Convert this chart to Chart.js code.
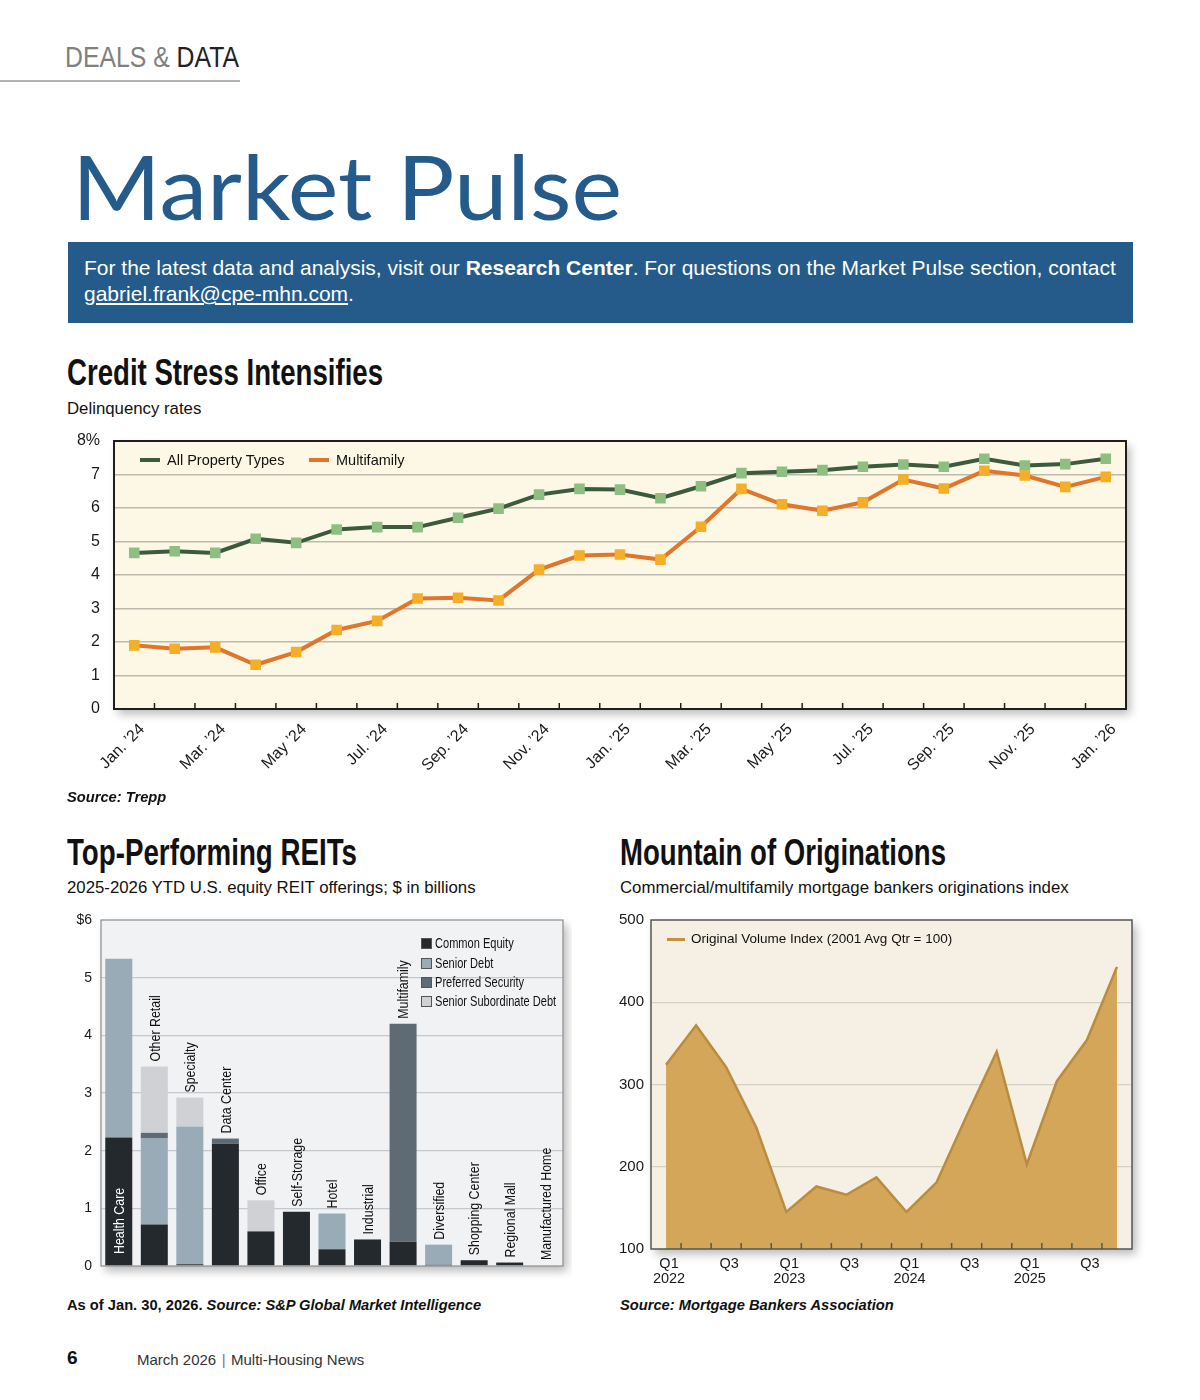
<!DOCTYPE html>
<html>
<head>
<meta charset="utf-8">
<script src="https://cdn.jsdelivr.net/npm/chart.js@4.4.1/dist/chart.umd.min.js"></script>
<style>
  body { margin: 0; width: 1200px; height: 1400px; background: #fff; position: relative; font-family: "Liberation Sans", Arial, sans-serif; color: #111; overflow: hidden; }
  .abs { position: absolute; line-height: 1; white-space: nowrap; }
  .fit { display: inline-block; transform-origin: 0 0; }
  .chart { position: absolute; }
  .head { font-weight: bold; font-size: 36px; color: #111; }
  .sub { font-size: 16.8px; color: #111; }
  .src { font-size: 14.7px; font-weight: bold; font-style: italic; color: #111; }
  .swatch { position: absolute; }
  .leg { position: absolute; line-height: 14px; white-space: nowrap; }
</style>
</head>
<body>

<div class="abs" style="left:65px; top:43px; font-size:29px;"><span class="fit" data-w="174"><span style="color:#808080; font-weight:300;">DEALS &amp; </span><span style="color:#222;">DATA</span></span></div>
<div style="position:absolute; left:0; top:80px; width:240px; height:2px; background:#b3b3b3;"></div>

<div class="abs" style="left:72px; top:140px; font-size:90px; font-family:Lato, sans-serif; font-weight:400; color:#245b8a;"><span class="fit" data-w="550">Market Pulse</span></div>

<div style="position:absolute; left:68px; top:242px; width:1065px; height:81px; background:#245b8b; color:#fff; font-size:21px; line-height:26px; box-sizing:border-box; padding:13px 0 0 16px; white-space:nowrap;">
  For the latest data and analysis, visit our <b>Research Center</b>. For questions on the Market Pulse section, contact<br>
  <span style="text-decoration:underline;">gabriel.frank@cpe-mhn.com</span>.
</div>

<div class="abs head" style="left:67px; top:355px;"><span class="fit" data-w="316">Credit Stress Intensifies</span></div>
<div class="abs sub" style="left:67px; top:401px;">Delinquency rates</div>

<div class="chart" style="left:60px; top:430px; width:1080px; height:360px;"><canvas id="delinquency"></canvas></div>
<div class="swatch" style="left:140px; top:458px; width:20px; height:4px; background:#3b5a3e;"></div>
<div class="leg" style="left:167px; top:453px; font-size:14.5px;">All Property Types</div>
<div class="swatch" style="left:309px; top:458px; width:20px; height:4px; background:#e0762c;"></div>
<div class="leg" style="left:336px; top:453px; font-size:14.5px;">Multifamily</div>

<div class="abs src" style="left:67px; top:790px;">Source: Trepp</div>

<div class="abs head" style="left:67px; top:835px;"><span class="fit" data-w="290">Top-Performing REITs</span></div>
<div class="abs sub" style="left:67px; top:880px;">2025-2026 YTD U.S. equity REIT offerings; $ in billions</div>

<div class="abs head" style="left:620px; top:835px;"><span class="fit" data-w="326">Mountain of Originations</span></div>
<div class="abs sub" style="left:620px; top:880px;">Commercial/multifamily mortgage bankers originations index</div>

<div class="chart" style="left:60px; top:910px; width:512px; height:370px;"><canvas id="reits"></canvas></div>
<div id="reit-legend"></div>

<div class="chart" style="left:610px; top:910px; width:535px; height:380px;"><canvas id="originations"></canvas></div>
<div class="swatch" style="left:667px; top:938px; width:18px; height:3px; background:#c4923c;"></div>
<div class="leg" style="left:691px; top:932px; font-size:13.5px;">Original Volume Index (2001 Avg Qtr = 100)</div>

<div class="abs src" style="left:67px; top:1298px;"><span style="font-style:normal;">As of Jan. 30, 2026.</span> Source: S&amp;P Global Market Intelligence</div>
<div class="abs src" style="left:620px; top:1298px;">Source: Mortgage Bankers Association</div>

<div class="abs" style="left:67px; top:1348px; font-size:19px; font-weight:bold;">6</div>
<div class="abs" style="left:137px; top:1352px; font-size:15px; color:#333;">March 2026 <span style="color:#777;">&#8202;|&#8202;</span> Multi-Housing News</div>

<script>
// Credit Stress Intensifies: delinquency rates, %
const monthLabels = [
  'Jan. \u201924', 'Feb. \u201924', 'Mar. \u201924', 'Apr. \u201924', 'May \u201924', 'Jun. \u201924',
  'Jul. \u201924', 'Aug. \u201924', 'Sep. \u201924', 'Oct. \u201924', 'Nov. \u201924', 'Dec. \u201924',
  'Jan. \u201925', 'Feb. \u201925', 'Mar. \u201925', 'Apr. \u201925', 'May \u201925', 'Jun. \u201925',
  'Jul. \u201925', 'Aug. \u201925', 'Sep. \u201925', 'Oct. \u201925', 'Nov. \u201925', 'Dec. \u201925',
  'Jan. \u201926'
];
const allPropertyTypes = [4.66, 4.71, 4.66, 5.08, 4.96, 5.36, 5.43, 5.43, 5.71, 5.98, 6.40, 6.57,
  6.55, 6.29, 6.65, 7.04, 7.08, 7.13, 7.23, 7.30, 7.23, 7.47, 7.27, 7.31, 7.47];
const multifamilyRates = [1.90, 1.80, 1.84, 1.32, 1.70, 2.36, 2.63, 3.30, 3.32, 3.24, 4.16, 4.58,
  4.61, 4.46, 5.44, 6.57, 6.11, 5.92, 6.17, 6.85, 6.58, 7.11, 6.97, 6.63, 6.93];

// Top-Performing REITs: $ billions
const reitSectors = ['Health Care', 'Other Retail', 'Specialty', 'Data Center', 'Office', 'Self-Storage',
  'Hotel', 'Industrial', 'Multifamily', 'Diversified', 'Shopping Center', 'Regional Mall', 'Manufactured Home'];
const commonEquity = [2.23, 0.72, 0.03, 2.12, 0.60, 0.94, 0.29, 0.46, 0.42, 0.02, 0.10, 0.06, 0];
const seniorDebt = [3.10, 1.49, 2.39, 0, 0, 0, 0.62, 0, 0, 0.35, 0, 0, 0];
const preferredSecurity = [0, 0.10, 0, 0.09, 0, 0, 0, 0, 3.78, 0, 0, 0, 0];
const seniorSubordinateDebt = [0, 1.15, 0.50, 0, 0.54, 0, 0, 0, 0, 0, 0, 0, 0];

// Mountain of Originations: index, 2001 avg qtr = 100
const quarterLabels = ['Q1 2022', 'Q2 2022', 'Q3 2022', 'Q4 2022', 'Q1 2023', 'Q2 2023', 'Q3 2023', 'Q4 2023',
  'Q1 2024', 'Q2 2024', 'Q3 2024', 'Q4 2024', 'Q1 2025', 'Q2 2025', 'Q3 2025', 'Q4 2025'];
const quarterTicks = [['Q1', '2022'], '', 'Q3', '', ['Q1', '2023'], '', 'Q3', '', ['Q1', '2024'], '', 'Q3', '',
  ['Q1', '2025'], '', 'Q3', ''];
const volumeIndex = [324, 372, 321, 248, 145, 176, 166, 187, 145, 181, 262, 340, 203, 304, 354, 443];

const FONT = '"Liberation Sans", Arial, sans-serif';
Chart.defaults.font.family = FONT;
Chart.defaults.color = '#1a1a1a';
Chart.defaults.animation = false;

// fixed axis sizes, so the plot boxes land where the page needs them
const fixY = (w) => (s) => { s.width = w; s.paddingTop = 0; s.paddingBottom = 0; };
const fixX = (h) => (s) => { s.height = h; s.paddingLeft = 0; s.paddingRight = 0; };

// shaded plot box, border and inward tick marks between categories
const framePlugin = {
  id: 'frame',
  beforeDraw(chart, args, opts) {
    const { ctx, chartArea: a } = chart;
    ctx.save();
    ctx.shadowColor = 'rgba(0, 0, 0, 0.28)';
    ctx.shadowBlur = 9;
    ctx.shadowOffsetX = 4;
    ctx.shadowOffsetY = 5;
    ctx.fillStyle = opts.bg;
    ctx.fillRect(a.left, a.top, a.right - a.left, a.bottom - a.top);
    ctx.restore();
  },
  afterDatasetsDraw(chart, args, opts) {
    const { ctx, chartArea: a } = chart;
    const x = chart.scales.x;
    ctx.save();
    if (opts.tickLen) {
      ctx.strokeStyle = opts.border;
      ctx.lineWidth = 1.5;
      const n = chart.data.labels.length;
      for (let i = 0; i < n - 1; i++) {
        const px = (x.getPixelForValue(i) + x.getPixelForValue(i + 1)) / 2;
        ctx.beginPath();
        ctx.moveTo(px, a.bottom);
        ctx.lineTo(px, a.bottom - opts.tickLen);
        ctx.stroke();
      }
    }
    ctx.strokeStyle = opts.border;
    ctx.lineWidth = opts.borderWidth;
    ctx.strokeRect(a.left, a.top, a.right - a.left, a.bottom - a.top);
    ctx.restore();
  }
};

// rotated sector names above (or inside) each stacked bar
const sectorLabelPlugin = {
  id: 'sectorLabels',
  afterDatasetsDraw(chart) {
    const { ctx, chartArea: a } = chart;
    const x = chart.scales.x;
    const y = chart.scales.y;
    ctx.save();
    ctx.font = '15.5px ' + FONT;
    ctx.textBaseline = 'middle';
    ctx.textAlign = 'left';
    reitSectors.forEach((name, i) => {
      const total = commonEquity[i] + seniorDebt[i] + preferredSecurity[i] + seniorSubordinateDebt[i];
      const w = ctx.measureText(name).width * 0.8;
      let start = y.getPixelForValue(total) - 5;
      ctx.fillStyle = '#111';
      if (start - w < a.top + 4) {
        start = a.bottom - 12;
        ctx.fillStyle = '#fff';
      } else if (total === 0) {
        start = a.bottom - 6;
      }
      ctx.save();
      ctx.translate(x.getPixelForValue(i) + 1, start);
      ctx.rotate(-Math.PI / 2);
      ctx.scale(0.8, 1);
      ctx.fillText(name, 0, 0);
      ctx.restore();
    });
    ctx.restore();
  }
};

new Chart(document.getElementById('delinquency'), {
  type: 'line',
  data: {
    labels: monthLabels,
    datasets: [
      {
        label: 'All Property Types',
        data: allPropertyTypes,
        borderColor: '#3b5a3e',
        borderWidth: 4,
        pointStyle: 'rect',
        pointRadius: 7.5,
        pointBackgroundColor: '#8fbe82',
        pointBorderWidth: 0,
        order: 1
      },
      {
        label: 'Multifamily',
        data: multifamilyRates,
        borderColor: '#e0762c',
        borderWidth: 4,
        pointStyle: 'rect',
        pointRadius: 7.5,
        pointBackgroundColor: '#f5ae27',
        pointBorderWidth: 0,
        order: 0
      }
    ]
  },
  options: {
    responsive: true,
    maintainAspectRatio: false,
    layout: { padding: { top: 11, right: 14, left: 0, bottom: 0 } },
    plugins: { legend: { display: false }, tooltip: { enabled: false }, frame: { bg: '#fdf8e6', border: '#1e1e1e', borderWidth: 2, tickLen: 6 } },
    scales: {
      x: {
        offset: true,
        grid: { display: false },
        border: { display: false },
        afterFit: fixX(81),
        ticks: {
          autoSkip: false,
          maxRotation: 45,
          minRotation: 45,
          padding: 3,
          labelOffset: 8,
          font: { size: 16 },
          callback: (v, i) => (i % 2 === 0 ? monthLabels[i] : '')
        }
      },
      y: {
        min: 0,
        max: 8,
        border: { display: false },
        afterFit: fixY(54),
        grid: {
          drawTicks: false,
          lineWidth: 1.5,
          color: (c) => (c.tick && (c.tick.value === 0 || c.tick.value === 8) ? 'rgba(0,0,0,0)' : '#bdb9ac')
        },
        ticks: {
          stepSize: 1,
          padding: 14,
          font: { size: 16 },
          callback: (v) => (v === 8 ? '8%' : v)
        }
      }
    }
  },
  plugins: [framePlugin]
});

new Chart(document.getElementById('reits'), {
  type: 'bar',
  data: {
    labels: reitSectors,
    datasets: [
      { label: 'Common Equity', data: commonEquity, backgroundColor: '#24292d' },
      { label: 'Senior Debt', data: seniorDebt, backgroundColor: '#9aabb8' },
      { label: 'Preferred Security', data: preferredSecurity, backgroundColor: '#5f6b74' },
      { label: 'Senior Subordinate Debt', data: seniorSubordinateDebt, backgroundColor: '#cfd1d5' }
    ]
  },
  options: {
    responsive: true,
    maintainAspectRatio: false,
    layout: { padding: { top: 10, right: 9, left: 0, bottom: 14 } },
    datasets: { bar: { barPercentage: 0.76, categoryPercentage: 1 } },
    plugins: { legend: { display: false }, tooltip: { enabled: false }, frame: { bg: '#f1f2f4', border: '#8b8e91', borderWidth: 1.2, tickLen: 0 } },
    scales: {
      x: { stacked: true, display: false },
      y: {
        stacked: true,
        min: 0,
        max: 6,
        border: { display: false },
        afterFit: fixY(41),
        grid: {
          drawTicks: false,
          lineWidth: 1.2,
          color: (c) => (c.tick && (c.tick.value === 0 || c.tick.value === 6) ? 'rgba(0,0,0,0)' : '#c5c8cc')
        },
        ticks: {
          stepSize: 1,
          padding: 9,
          font: { size: 14 },
          callback: (v) => (v === 6 ? '$6' : v)
        }
      }
    }
  },
  plugins: [framePlugin, sectorLabelPlugin]
});

new Chart(document.getElementById('originations'), {
  type: 'line',
  data: {
    labels: quarterLabels,
    datasets: [
      {
        label: 'Original Volume Index (2001 Avg Qtr = 100)',
        data: volumeIndex,
        borderColor: '#b98c3f',
        borderWidth: 2.5,
        backgroundColor: '#d4a659',
        fill: 'start',
        pointRadius: 0,
        tension: 0
      }
    ]
  },
  options: {
    responsive: true,
    maintainAspectRatio: false,
    layout: { padding: { top: 10, right: 13, left: 0, bottom: 0 } },
    plugins: { legend: { display: false }, tooltip: { enabled: false }, frame: { bg: '#f5f0e3', border: '#555555', borderWidth: 1.5, tickLen: 6 } },
    scales: {
      x: {
        offset: true,
        grid: { display: false },
        border: { display: false },
        afterFit: fixX(41),
        ticks: {
          autoSkip: false,
          maxRotation: 0,
          padding: 0,
          labelOffset: 3,
          font: { size: 14.5, lineHeight: 1.0 },
          callback: (v, i) => quarterTicks[i]
        }
      },
      y: {
        min: 100,
        max: 500,
        border: { display: false },
        afterFit: fixY(41),
        grid: {
          drawTicks: false,
          lineWidth: 1.2,
          color: (c) => (c.tick && (c.tick.value === 100 || c.tick.value === 500) ? 'rgba(0,0,0,0)' : '#d6d0c2')
        },
        ticks: { stepSize: 100, padding: 7, font: { size: 15 } }
      }
    }
  },
  plugins: [framePlugin]
});

// legend for the REIT chart
const reitLegend = document.getElementById('reit-legend');
const reitLegendItems = [
  ['Common Equity', '#24292d', 943],
  ['Senior Debt', '#9aabb8', 963],
  ['Preferred Security', '#5f6b74', 982],
  ['Senior Subordinate Debt', '#cfd1d5', 1001]
];
reitLegendItems.forEach(([name, color, cy]) => {
  reitLegend.insertAdjacentHTML('beforeend',
    `<div class="swatch" style="left:421px; top:${cy - 5}px; width:9px; height:9px; background:${color}; border:0.5px solid #555;"></div>` +
    `<div class="leg" style="left:435px; top:${cy - 7}px; font-size:14px;"><span class="fit" style="transform:scaleX(0.79);">${name}</span></div>`);
});

document.querySelectorAll('[data-w]').forEach((el) => {
  const w = el.getBoundingClientRect().width;
  el.style.transform = `scaleX(${el.dataset.w / w})`;
});
</script>
</body>
</html>
